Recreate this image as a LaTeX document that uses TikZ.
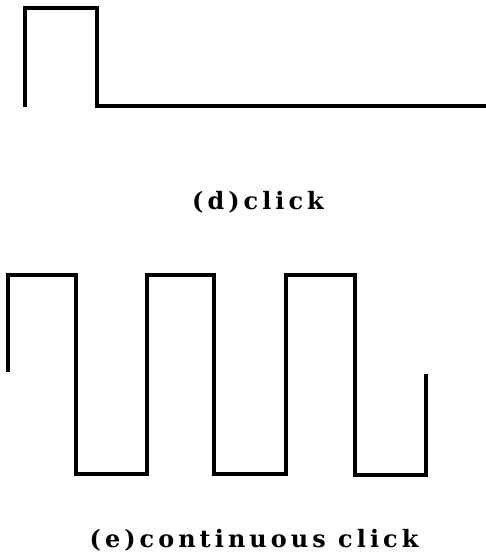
\documentclass[tikz,border=0pt]{standalone}
\usepackage{fontspec}
\setmainfont{DejaVu Serif}
\newfontfamily\lblfont[LetterSpace=17]{DejaVu Serif}
\begin{document}
\begin{tikzpicture}[x=1bp,y=-1bp,
  wave/.style={line width=3.5bp,line join=miter,black},
  lbl/.style={font=\lblfont\bfseries\fontsize{24}{28}\selectfont,inner sep=0pt,anchor=center}]
\useasboundingbox (0,0) rectangle (486,559);
% (d) click
\draw[wave] (25,107) -- (25,8) -- (97,8) -- (97,106) -- (486,106);
\node[lbl] (d) at (258,202) {(d)click};
% (e) continuous click
\draw[wave] (8,372) -- (8,275) -- (76,275) -- (76,474) -- (147,474) -- (147,275)
  -- (214,275) -- (214,474) -- (286,474) -- (286,275) -- (355,275) -- (355,475)
  -- (426,475) -- (426,374);
\node[lbl] (e) at (254,540) {(e)continuous click};
\end{tikzpicture}
\end{document}
